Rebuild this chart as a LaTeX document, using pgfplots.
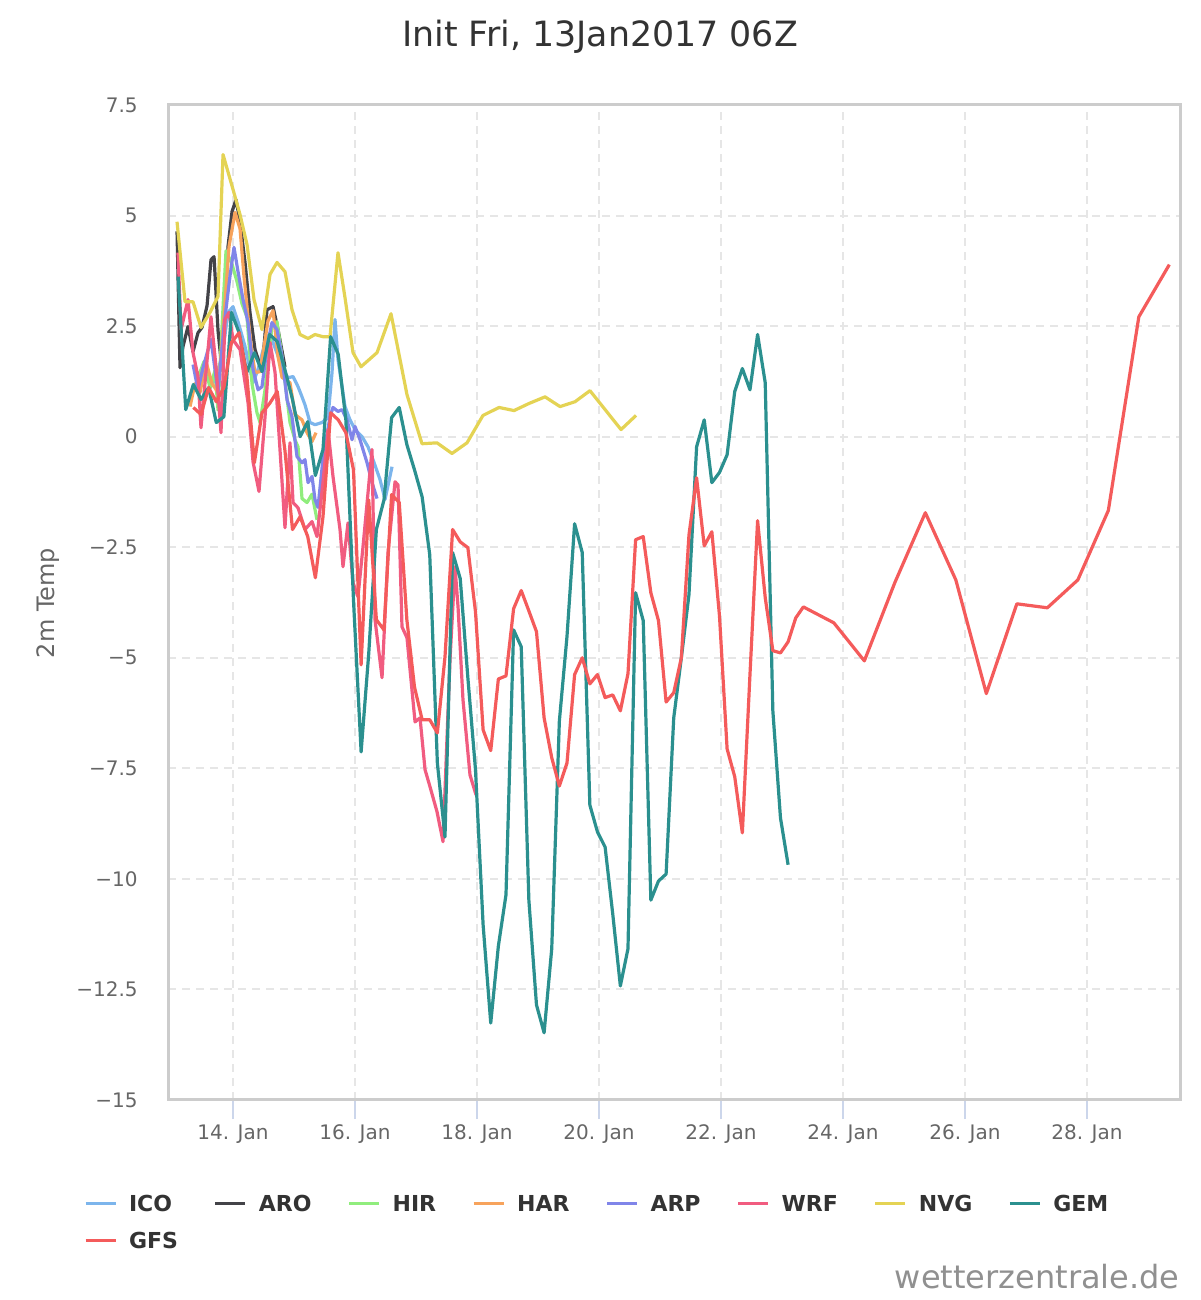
\documentclass[border=0pt]{standalone}
\usepackage{fontspec}
\setmainfont{DejaVu Sans}
\usepackage{pgfplots}
\pgfplotsset{compat=1.18}
\definecolor{cICO}{HTML}{7CB5EC}
\definecolor{cARO}{HTML}{434348}
\definecolor{cHIR}{HTML}{90ED7D}
\definecolor{cHAR}{HTML}{F7A35C}
\definecolor{cARP}{HTML}{8085E9}
\definecolor{cWRF}{HTML}{F15C80}
\definecolor{cNVG}{HTML}{E4D354}
\definecolor{cGEM}{HTML}{2B908F}
\definecolor{cGFS}{HTML}{F45B5B}
\definecolor{ctitle}{HTML}{333333}
\definecolor{ctext}{HTML}{666666}
\definecolor{cframe}{HTML}{CCCCCC}
\definecolor{cgrid}{HTML}{E6E6E6}
\definecolor{ctick}{HTML}{CCD6EB}
\definecolor{cwm}{HTML}{909090}
\begin{document}
\begin{tikzpicture}
\useasboundingbox (0pt,0pt) rectangle (600pt,650pt);
\node[font=\fontsize{17.4}{20}\selectfont, text=ctitle] at (300pt,631.5pt) {Init Fri, 13Jan2017 06Z};
\node[rotate=90, font=\fontsize{12}{14}\selectfont, text=ctext] at (24pt,348.5pt) {2m Temp};
\node[anchor=east, font=\fontsize{16}{19}\selectfont, text=cwm, inner sep=0pt] at (590pt,11.5pt) {wetterzentrale.de};
\begin{axis}[
  at={(84pt,100pt)}, anchor=south west,
  scale only axis, width=506pt, height=497.5pt,
  xmin=12.934, xmax=29.525, ymin=-15, ymax=7.5,
  axis line style={draw=cframe, line width=1.5pt},
  xtick={14,16,18,20,22,24,26,28},
  xticklabels={14. Jan,16. Jan,18. Jan,20. Jan,22. Jan,24. Jan,26. Jan,28. Jan},
  ytick={-15,-12.5,-10,-7.5,-5,-2.5,0,2.5,5,7.5},
  yticklabels={−15,−12.5,−10,−7.5,−5,−2.5,0,2.5,5,7.5},
  tick align=outside, major tick length=9.5pt,
  xtick pos=left,
  xtick style={draw=ctick, line width=1pt},
  ytick style={draw=none},
  grid=major,
  major grid style={draw=cgrid, line width=1pt, dash pattern=on 4pt off 3pt},
  xticklabel style={font=\fontsize{10}{12}\selectfont, text=ctext, anchor=base, inner sep=0pt, yshift=-10.5pt},
  yticklabel style={font=\fontsize{10}{12}\selectfont, text=ctext, anchor=east, inner sep=0pt, xshift=-5.5pt},
  every axis plot/.append style={line width=1.6pt, mark=none, line join=round},
  legend columns=8,
  legend cell align=left,
  legend image code/.code={\draw[#1, line width=1.5pt] (0pt,0pt) -- (15pt,0pt);},
  legend style={at={(-0.083,-0.0955)}, anchor=north west, draw=none, fill=none,
    inner sep=0pt, outer sep=0pt,
    font=\fontsize{11}{13}\selectfont\bfseries, text=ctitle,
    nodes={inner sep=0pt, text height=8pt, text depth=0pt, anchor=west},
    row sep=10.5pt, column sep=0pt,
    /tikz/every odd column/.append style={column sep=6pt},
    /tikz/every even column/.append style={column sep=18pt}},
]
% ICO
\addplot[cICO] coordinates {(13.541,0.9)(13.705,1.3)(13.820,1.8)(13.918,2.81)(14.000,2.94)(14.082,2.6)(14.197,2.04)(14.328,1.22)(14.410,1.52)(14.525,2.13)(14.607,2.35)(14.656,2.13)(14.820,1.52)(14.902,1.33)(14.984,1.36)(15.066,1.13)(15.131,0.90)(15.180,0.72)(15.262,0.32)(15.344,0.27)(15.459,0.32)(15.557,0.43)(15.623,1.45)(15.672,2.65)(15.721,1.74)(15.836,0.68)(15.918,0.38)(16.000,0.16)(16.115,0.00)(16.213,-0.23)(16.295,-0.52)(16.410,-0.97)(16.492,-1.42)(16.607,-0.68)};
\addlegendentry{ICO}
% ARO
\addplot[cARO] coordinates {(13.082,4.64)(13.131,1.56)(13.180,2.04)(13.262,2.49)(13.344,1.92)(13.426,2.35)(13.492,2.47)(13.574,2.96)(13.639,4.00)(13.689,4.07)(13.754,2.40)(13.820,1.50)(13.918,4.30)(13.984,5.09)(14.049,5.36)(14.115,4.86)(14.197,3.94)(14.279,2.80)(14.361,1.97)(14.475,1.47)(14.557,2.87)(14.656,2.94)(14.738,2.42)(14.852,1.58)};
\addlegendentry{ARO}
% HIR
\addplot[cHIR] coordinates {(13.377,1.5)(13.443,1.4)(13.525,1.7)(13.623,1.1)(13.705,1.5)(13.754,0.6)(13.820,2.5)(13.885,4.2)(13.984,3.9)(14.066,3.5)(14.148,3.0)(14.230,2.7)(14.311,1.2)(14.393,0.54)(14.443,0.32)(14.525,1.06)(14.639,2.49)(14.721,2.6)(14.803,1.81)(14.934,0.32)(15.016,-0.07)(15.066,-0.23)(15.131,-1.40)(15.213,-1.49)(15.295,-1.30)(15.377,-1.88)};
\addlegendentry{HIR}
% HAR
\addplot[cHAR] coordinates {(13.295,0.68)(13.377,1.2)(13.459,1.0)(13.557,1.7)(13.656,1.2)(13.754,1.0)(13.852,2.7)(13.934,4.3)(14.033,5.07)(14.115,4.7)(14.180,3.62)(14.246,2.71)(14.311,1.9)(14.361,1.45)(14.443,1.47)(14.574,2.62)(14.656,2.85)(14.738,1.81)(14.803,1.34)(14.934,1.22)(15.016,0.50)(15.131,0.38)(15.213,0.09)(15.295,-0.11)(15.361,0.09)};
\addlegendentry{HAR}
% ARP
\addplot[cARP] coordinates {(13.344,1.63)(13.426,1.06)(13.508,1.56)(13.639,2.2)(13.754,1.0)(13.852,2.5)(13.951,3.64)(14.016,4.28)(14.082,3.73)(14.164,3.10)(14.246,2.58)(14.328,1.52)(14.410,1.06)(14.475,1.13)(14.557,2.01)(14.639,2.58)(14.721,2.42)(14.803,1.81)(14.885,0.84)(14.967,0.45)(15.049,-0.45)(15.131,-0.59)(15.180,-0.52)(15.230,-1.04)(15.295,-0.90)(15.344,-1.42)(15.393,-1.6)(15.475,-0.5)(15.590,0.45)(15.639,0.66)(15.721,0.57)(15.787,0.61)(15.869,0.38)(15.951,-0.07)(16.000,0.23)(16.082,-0.07)(16.197,-0.59)(16.279,-1.04)(16.361,-1.40)};
\addlegendentry{ARP}
% WRF
\addplot[cWRF] coordinates {(13.098,4.16)(13.148,2.42)(13.262,3.10)(13.344,1.90)(13.426,1.36)(13.475,0.20)(13.541,1.22)(13.639,2.71)(13.721,1.58)(13.803,0.09)(13.869,2.65)(13.934,2.81)(14.000,2.19)(14.115,1.97)(14.246,0.77)(14.328,-0.57)(14.426,-1.24)(14.525,0.45)(14.607,2.13)(14.689,1.45)(14.852,-2.06)(14.934,-0.14)(14.984,-1.49)(15.066,-1.61)(15.180,-2.10)(15.295,-1.92)(15.377,-2.26)(15.475,-1.04)(15.557,0.16)(15.639,-0.90)(15.754,-2.10)(15.803,-2.94)(15.885,-1.95)(15.967,-3.30)(16.049,-3.62)(16.131,-2.49)(16.279,-0.29)(16.328,-4.14)(16.443,-5.45)(16.541,-2.62)(16.656,-1.02)(16.705,-1.09)(16.770,-4.30)(16.852,-4.55)(16.984,-6.45)(17.066,-6.36)(17.148,-7.53)(17.230,-7.92)(17.344,-8.48)(17.443,-9.16)(17.557,-5.05)(17.639,-2.94)(17.689,-3.85)(17.770,-5.95)(17.885,-7.65)(17.984,-8.10)};
\addlegendentry{WRF}
% NVG
\addplot[cNVG] coordinates {(13.082,4.86)(13.213,3.05)(13.344,3.05)(13.475,2.47)(13.623,2.81)(13.754,3.17)(13.836,6.38)(14.000,5.59)(14.115,5.02)(14.230,4.34)(14.344,3.10)(14.475,2.42)(14.607,3.67)(14.721,3.94)(14.852,3.73)(14.967,2.87)(15.098,2.31)(15.230,2.22)(15.344,2.31)(15.475,2.26)(15.590,2.26)(15.721,4.16)(15.836,3.14)(15.967,1.90)(16.098,1.58)(16.361,1.90)(16.590,2.78)(16.852,0.95)(17.098,-0.16)(17.344,-0.14)(17.590,-0.38)(17.836,-0.14)(18.098,0.48)(18.361,0.66)(18.607,0.59)(18.852,0.75)(19.115,0.90)(19.361,0.68)(19.607,0.79)(19.852,1.04)(20.361,0.16)(20.607,0.48)};
\addlegendentry{NVG}
% GEM
\addplot[cGEM] coordinates {(13.100,3.62)(13.225,0.61)(13.350,1.18)(13.475,0.84)(13.600,1.11)(13.725,0.32)(13.850,0.45)(13.975,2.81)(14.100,2.35)(14.225,1.45)(14.350,1.90)(14.475,1.47)(14.600,2.31)(14.725,2.15)(14.850,1.52)(14.975,0.84)(15.100,0.00)(15.225,0.34)(15.350,-0.88)(15.475,-0.29)(15.600,2.26)(15.725,1.86)(15.850,0.38)(15.975,-3.70)(16.100,-7.13)(16.225,-4.90)(16.350,-2.10)(16.475,-1.43)(16.600,0.43)(16.725,0.66)(16.850,-0.18)(16.975,-0.75)(17.100,-1.36)(17.225,-2.67)(17.350,-7.38)(17.475,-9.05)(17.600,-2.62)(17.725,-3.21)(17.850,-5.45)(17.975,-7.53)(18.100,-11.04)(18.225,-13.26)(18.350,-11.52)(18.475,-10.36)(18.600,-4.37)(18.725,-4.75)(18.850,-10.48)(18.975,-12.85)(19.100,-13.48)(19.225,-11.58)(19.350,-6.43)(19.475,-4.52)(19.600,-1.97)(19.725,-2.62)(19.850,-8.33)(19.975,-8.94)(20.100,-9.28)(20.225,-10.79)(20.350,-12.42)(20.475,-11.58)(20.600,-3.53)(20.725,-4.16)(20.850,-10.48)(20.975,-10.05)(21.100,-9.89)(21.225,-6.36)(21.350,-5.00)(21.475,-3.57)(21.600,-0.23)(21.725,0.38)(21.850,-1.04)(21.975,-0.81)(22.100,-0.41)(22.225,1.02)(22.350,1.54)(22.475,1.06)(22.600,2.31)(22.725,1.22)(22.850,-6.20)(22.975,-8.62)(23.100,-9.68)};
\addlegendentry{GEM}
% GFS
\addplot[cGFS] coordinates {(13.350,0.66)(13.475,0.50)(13.600,1.11)(13.725,0.79)(13.850,1.11)(13.975,2.13)(14.100,2.35)(14.225,1.40)(14.350,-0.59)(14.475,0.54)(14.600,0.75)(14.725,1.02)(14.850,-0.30)(14.975,-2.10)(15.100,-1.81)(15.225,-2.26)(15.350,-3.19)(15.475,-1.81)(15.600,0.54)(15.725,0.38)(15.850,0.09)(15.975,-0.75)(16.100,-5.16)(16.225,-1.43)(16.350,-4.14)(16.475,-4.37)(16.600,-1.31)(16.725,-1.49)(16.850,-4.14)(16.975,-5.66)(17.100,-6.40)(17.225,-6.40)(17.350,-6.70)(17.475,-4.98)(17.600,-2.10)(17.725,-2.38)(17.850,-2.51)(17.975,-3.96)(18.100,-6.63)(18.225,-7.10)(18.350,-5.48)(18.475,-5.41)(18.600,-3.89)(18.725,-3.48)(18.850,-3.94)(18.975,-4.41)(19.100,-6.36)(19.225,-7.26)(19.350,-7.90)(19.475,-7.38)(19.600,-5.38)(19.725,-5.00)(19.850,-5.59)(19.975,-5.38)(20.100,-5.90)(20.225,-5.84)(20.350,-6.20)(20.475,-5.36)(20.600,-2.33)(20.725,-2.26)(20.850,-3.53)(20.975,-4.16)(21.100,-6.00)(21.225,-5.79)(21.350,-5.00)(21.475,-2.22)(21.600,-0.93)(21.725,-2.47)(21.850,-2.15)(21.975,-4.05)(22.100,-7.06)(22.225,-7.69)(22.350,-8.96)(22.475,-5.38)(22.600,-1.90)(22.725,-3.64)(22.850,-4.84)(22.975,-4.89)(23.100,-4.64)(23.225,-4.10)(23.350,-3.85)(23.850,-4.21)(24.350,-5.07)(24.850,-3.30)(25.350,-1.72)(25.850,-3.24)(26.350,-5.81)(26.850,-3.78)(27.350,-3.87)(27.850,-3.24)(28.350,-1.67)(28.850,2.71)(29.350,3.89)};
\addlegendentry{GFS}
\end{axis}
\end{tikzpicture}
\end{document}
